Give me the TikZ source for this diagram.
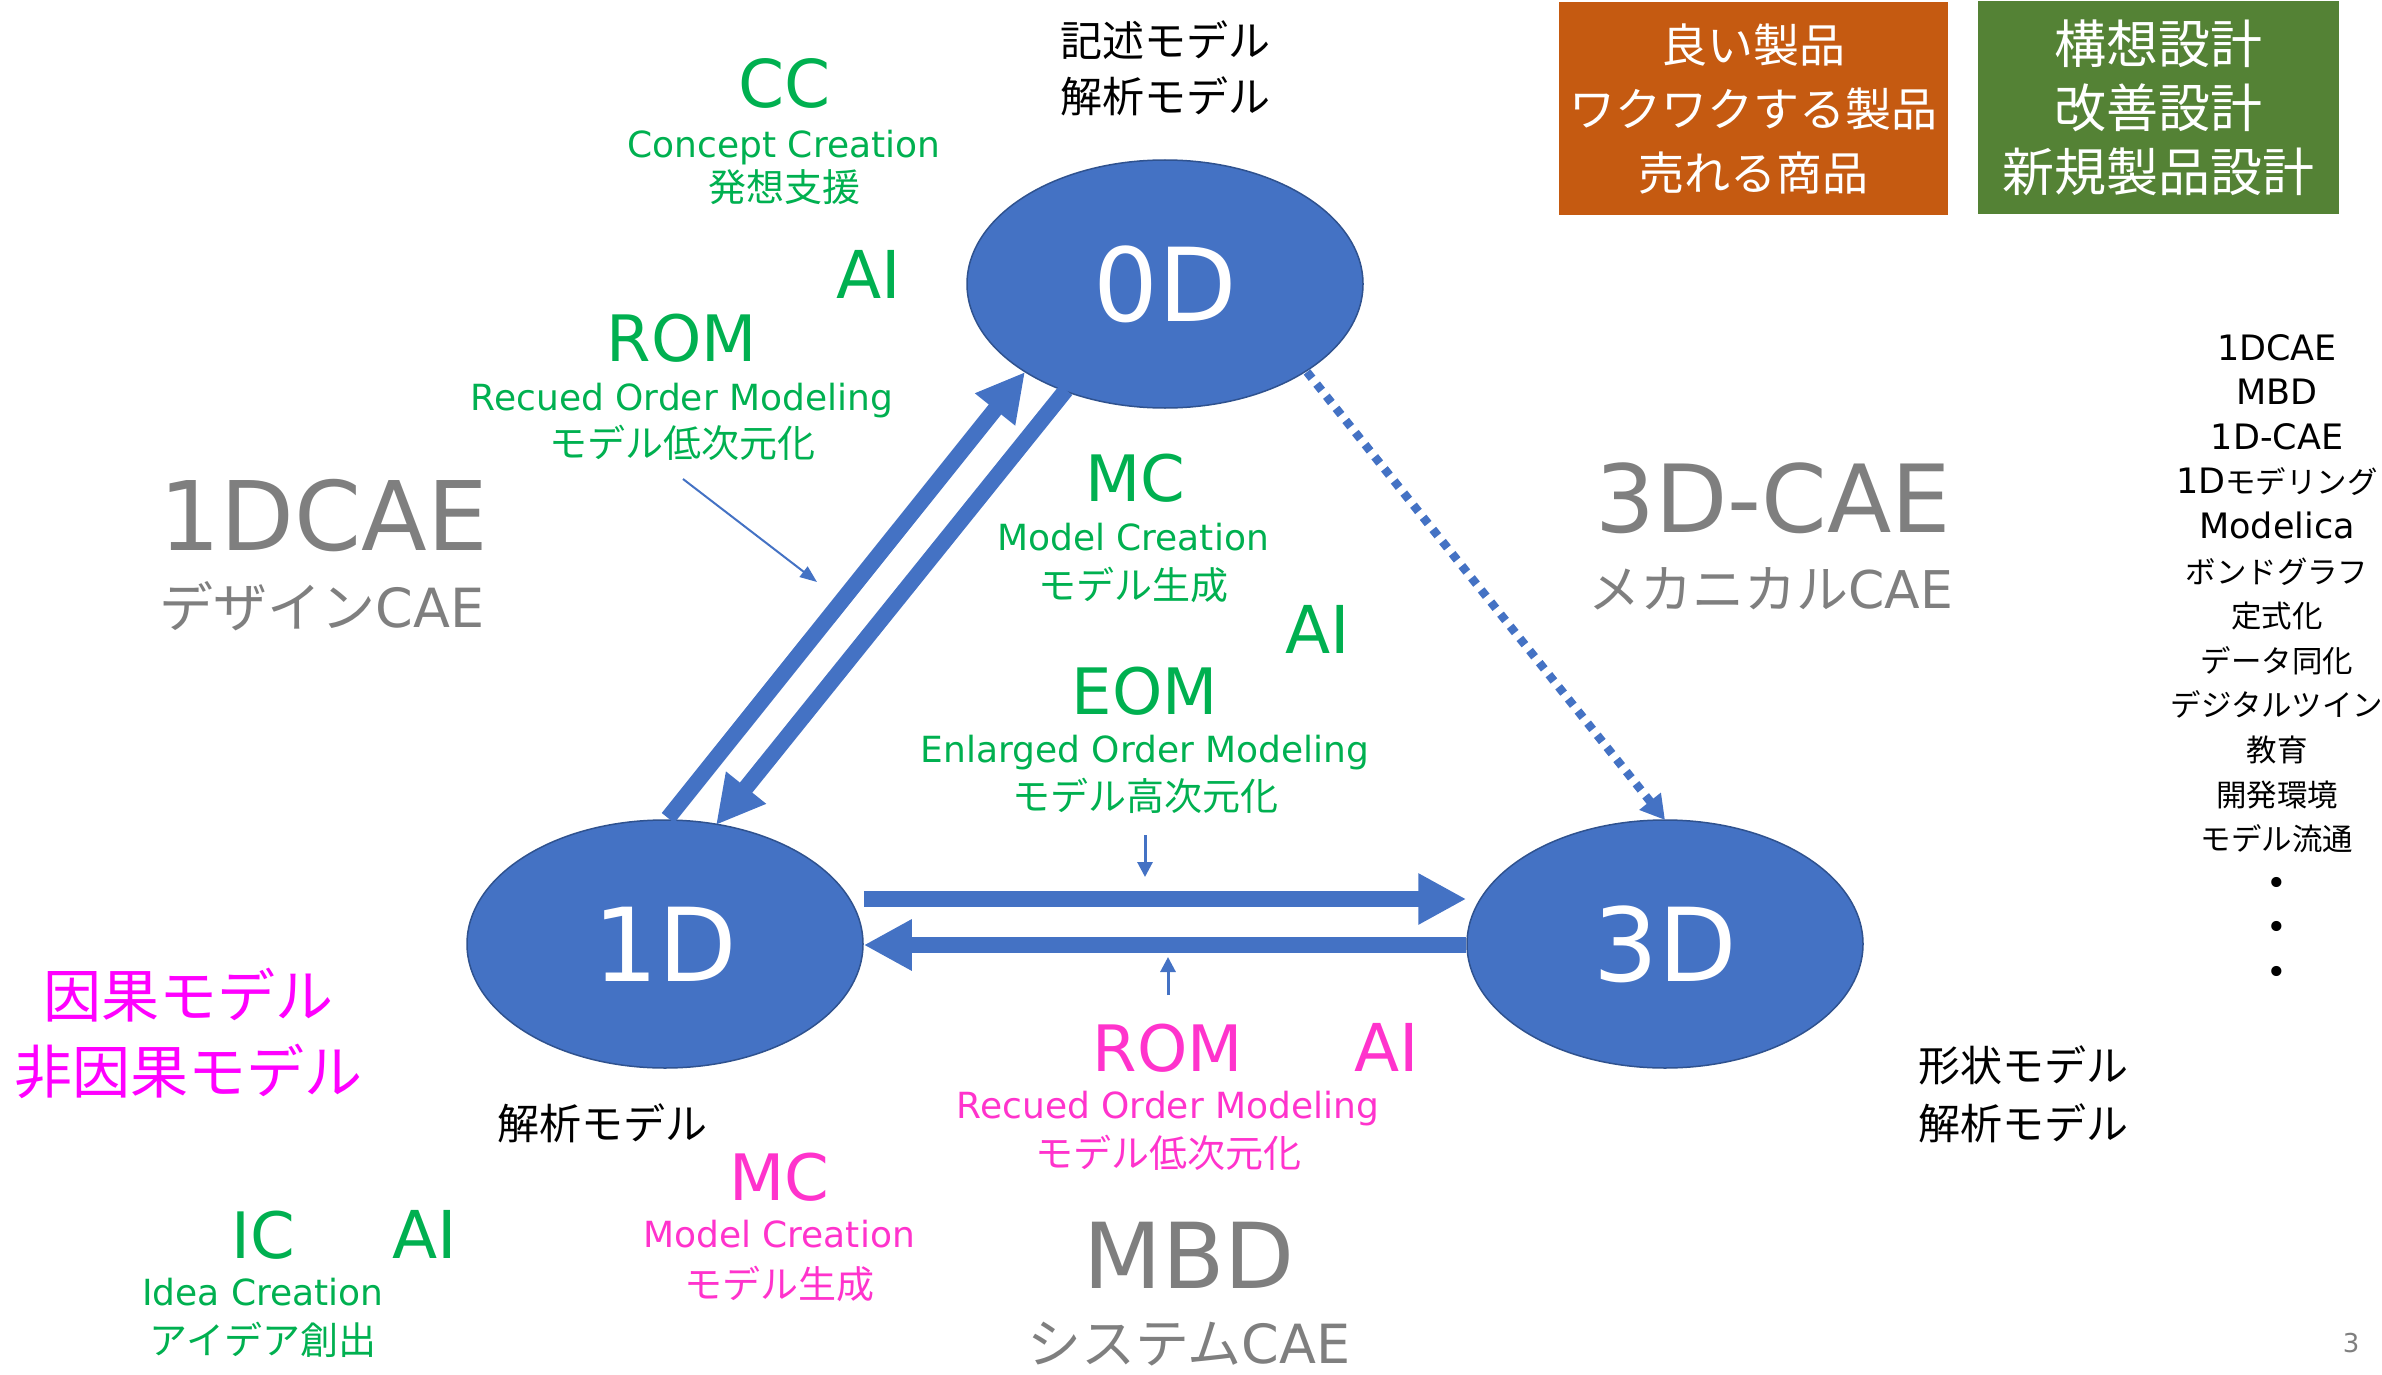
\documentclass[tikz,border=0pt]{standalone}
\usepackage{fontspec}
\setmainfont{DejaVu Sans}
\newfontfamily\jp{Noto Sans CJK JP}
\newfontfamily\jps{Noto Sans CJK JP}[Scale=0.87]
\usetikzlibrary{shapes.geometric,arrows.meta}
\definecolor{cblue}{HTML}{4472C4}
\definecolor{cblueD}{HTML}{2F528F}
\definecolor{cgreen}{HTML}{00B050}
\definecolor{cpink}{HTML}{FF33CC}
\definecolor{cmag}{HTML}{FF00FF}
\definecolor{cgrey}{HTML}{7F7F7F}
\definecolor{corange}{HTML}{C55A11}
\definecolor{cgbox}{HTML}{548235}
\newcommand\jtxt[1]{{\jp #1}}
\newcommand\fs[1]{\fontsize{#1}{#1}\selectfont}
\tikzset{
  lb/.style={inner sep=0pt, anchor=base},
  ell/.style={ellipse, fill=cblue, draw=cblueD, line width=1.5pt, minimum width=396pt, minimum height=248pt, inner sep=0pt, text=white, font=\fs{102}},
  fat/.style={draw=cblue, line width=16pt, -{Triangle[length=48pt,width=48pt]}},
  thinarrow/.style={draw=cblue, line width=3pt, -{Triangle[length=15pt,width=15pt]}},
  slimarrow/.style={draw=cblue, line width=2pt, -{Triangle[length=17pt,width=13pt]}},
  dotarrow/.style={draw=cblue, line width=8.5pt, dash pattern=on 8pt off 7.5pt, -{Triangle[length=24pt,width=26pt]}},
  boxtxt/.style={inner sep=0pt, text=white, align=center},
}
\begin{document}
\begin{tikzpicture}[x=1pt,y=-1pt]
\useasboundingbox (0,0) rectangle (2382,1375);
% ellipses
\node[ell] (n0D) at (1165,284) {0D};
\node[ell] (n1D) at (665,944) {1D};
\node[ell] (n3D) at (1665,944) {3D};
% connectors
\coordinate (upA) at (668,818);
\coordinate (upB) at (1025,372);
\coordinate (dnA) at (1066,390);
\coordinate (dnB) at (716,825);
\draw[fat] (upA) -- (upB);
\draw[fat] (dnA) -- (dnB);
\draw[fat] ([yshift=45pt]n1D.east) -- ([yshift=45pt]n3D.west);
\draw[fat] ([yshift=-1pt]n3D.west) -- ([yshift=-1pt]n1D.east);
\coordinate (dotA) at (1307,372);
\coordinate (dotB) at (1665,820);
\draw[dotarrow] (dotA) -- (dotB);
\coordinate (romA) at (683,479);
\coordinate (romB) at (817,582);
\draw[slimarrow] (romA) -- (romB);
\coordinate (eomA) at (1145,835);
\coordinate (eomB) at (1145,877);
\draw[thinarrow] (eomA) -- (eomB);
\coordinate (rtA) at (1168,995);
\coordinate (rtB) at (1168,957);
\draw[thinarrow] (rtA) -- (rtB);
% top boxes
\node[fill=corange, minimum width=389pt, minimum height=213pt, inner sep=0pt] (obox) at (1753,109) {};
\node[boxtxt, font=\fontsize{46}{64}\selectfont] (otext) at (obox.center) {\jtxt{良い製品}\\\jtxt{ワクワクする製品}\\\jtxt{売れる商品}};
\node[fill=cgbox, minimum width=361pt, minimum height=213pt, inner sep=0pt] (gbox) at (2158.5,108) {};
\node[boxtxt, font=\fontsize{52}{64}\selectfont] (gtext) at (gbox.center) {\jtxt{構想設計}\\\jtxt{改善設計}\\\jtxt{新規製品設計}};
% black labels
\node[lb, font=\fs{42}] (kijutsu) at (1165,57) {\jtxt{記述モデル}};
\node[lb, font=\fs{42}] (kaiseki0) at (1165,113) {\jtxt{解析モデル}};
\node[lb, font=\fs{42}] (kaiseki1) at (602,1139) {\jtxt{解析モデル}};
\node[lb, font=\fs{42}] (keijou) at (2023,1081) {\jtxt{形状モデル}};
\node[lb, font=\fs{42}] (kaiseki3) at (2023,1139) {\jtxt{解析モデル}};
% green labels
\begin{scope}[every node/.append style={text=cgreen}]
\node[lb, font=\fs{66}] (cc) at (785,108) {CC};
\node[lb, font=\fs{36}] (concept) at (784,158) {Concept Creation};
\node[lb, font=\fs{38}] (hassou) at (784,201) {\jtxt{発想支援}};
\node[lb, font=\fs{66}] (ai1) at (869,298) {AI};
\node[lb, font=\fs{64}] (rom1) at (682,361) {ROM};
\node[lb, font=\fs{36}] (recued1) at (682,410) {Recued Order Modeling};
\node[lb, font=\fs{38}] (teiji1) at (682,457) {\jtxt{モデル低次元化}};
\node[lb, font=\fs{64}] (mc1) at (1135,501) {MC};
\node[lb, font=\fs{36}] (modelc1) at (1133,550) {Model Creation};
\node[lb, font=\fs{38}] (seisei1) at (1133,599) {\jtxt{モデル生成}};
\node[lb, font=\fs{66}] (ai2) at (1318,653) {AI};
\node[lb, font=\fs{64}] (eom) at (1145,714) {EOM};
\node[lb, font=\fs{36}] (enlarged) at (1145,762) {Enlarged Order Modeling};
\node[lb, font=\fs{38}] (kouji) at (1145,810) {\jtxt{モデル高次元化}};
\node[lb, font=\fs{64}] (ic) at (263,1258) {IC};
\node[lb, font=\fs{66}] (ai4) at (425,1258) {AI};
\node[lb, font=\fs{36}] (idea) at (263,1305) {Idea Creation};
\node[lb, font=\fs{38}] (aidea) at (263,1354) {\jtxt{アイデア創出}};
\end{scope}
% pink labels
\begin{scope}[every node/.append style={text=cpink}]
\node[lb, font=\fs{64}] (rom2) at (1168,1071) {ROM};
\node[lb, font=\fs{66}] (ai3) at (1387,1071) {AI};
\node[lb, font=\fs{36}] (recued2) at (1168,1118) {Recued Order Modeling};
\node[lb, font=\fs{38}] (teiji2) at (1168,1167) {\jtxt{モデル低次元化}};
\node[lb, font=\fs{64}] (mc2) at (779,1200) {MC};
\node[lb, font=\fs{36}] (modelc2) at (779,1247) {Model Creation};
\node[lb, font=\fs{38}] (seisei2) at (779,1298) {\jtxt{モデル生成}};
\end{scope}
\node[lb, text=cmag, font=\fs{58}] (inga) at (188,1017) {\jtxt{因果モデル}};
\node[lb, text=cmag, font=\fs{58}] (hiinga) at (188,1093) {\jtxt{非因果モデル}};
% grey labels
\begin{scope}[every node/.append style={text=cgrey}]
\node[lb, font=\fs{96}] (dcae) at (324,550) {1DCAE};
\node[lb, font=\fs{54}] (dezain) at (322,627) {\jtxt{デザイン}CAE};
\node[lb, font=\fs{94}] (cae3d) at (1773,532) {3D-CAE};
\node[lb, font=\fs{52}] (mekani) at (1771,608) {\jtxt{メカニカル}CAE};
\node[lb, font=\fs{91}] (mbd) at (1189,1288) {MBD};
\node[lb, font=\fs{54}] (system) at (1189,1363) {\jtxt{システム}CAE};
\node[lb, font=\fs{26}] (pg) at (2351,1352) {3};
\end{scope}
% right column
\foreach \t [count=\i] in {1DCAE,MBD,1D-CAE,1D{\jps モデリング},Modelica,{\jps ボンドグラフ},{\jps 定式化},{\jps データ同化},{\jps デジタルツイン},{\jps 教育},{\jps 開発環境},{\jps モデル流通},•,•,•}
  \node[lb, font=\fs{35}] (rc\i) at (2277,{360+44.6*(\i-1)}) {\t};
\end{tikzpicture}
\end{document}
